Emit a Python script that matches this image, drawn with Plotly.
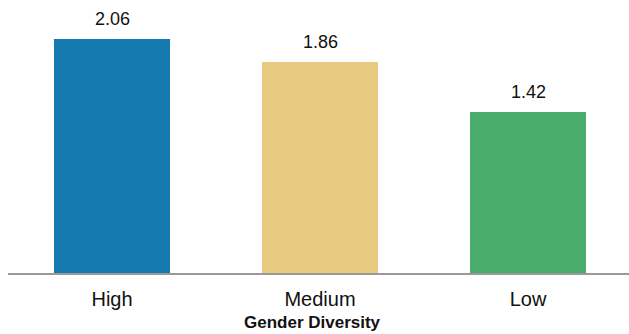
import plotly.graph_objects as go

categories = ["High", "Medium", "Low"]
values = [2.06, 1.86, 1.42]
value_labels = ["2.06", "1.86", "1.42"]
colors = ["#157AB0", "#E8CB80", "#49AC6B"]
x_title = "Gender Diversity"

FONT = "Liberation Sans, Arial"

fig = go.Figure()
fig.add_trace(go.Bar(
    x=categories, y=values, marker=dict(color=colors, line=dict(width=0)),
    width=0.558, hoverinfo="skip", showlegend=False,
))
for c, v, t in zip(categories, values, value_labels):
    fig.add_annotation(x=c, y=v, text=t, showarrow=False, yanchor="bottom",
                       yshift=8, font=dict(family=FONT, size=18, color="#111"))

fig.add_annotation(x=0.491, xref="paper", y=0, yref="paper", text="<b>" + x_title + "</b>",
                   showarrow=False, yanchor="top", yshift=-38,
                   font=dict(family=FONT, size=17, color="#111"))

fig.update_layout(
    width=629, height=334, margin=dict(l=8, r=0, t=0, b=61),
    plot_bgcolor="white", paper_bgcolor="white",
    bargap=0,
    xaxis=dict(range=[-0.5, 2.4856], showline=True, linecolor="#999999", linewidth=1.5,
               ticks="", showgrid=False, zeroline=False,
               tickfont=dict(family=FONT, size=20, color="#111"),
               ticklabelstandoff=7),
    yaxis=dict(range=[0, 2.407], visible=False, showgrid=False, zeroline=False),
)
fig.write_html("out.html")
